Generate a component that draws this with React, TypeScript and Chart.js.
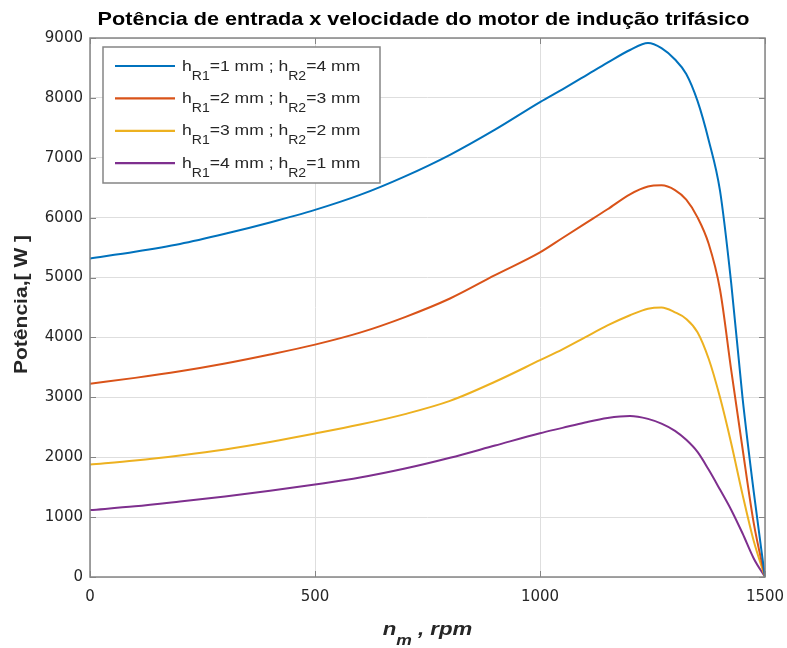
import React, { useEffect, useRef } from 'react';
import { Chart, registerables } from 'chart.js';

Chart.register(...registerables);

// ---- data ----
const rpm = [0, 100, 200, 300, 400, 500, 600, 700, 800, 900, 1000, 1050, 1100, 1150, 1200, 1240, 1270, 1300, 1325, 1350, 1375, 1400, 1425, 1450, 1475, 1500];
const powerR1_1 = [5320, 5430, 5560, 5730, 5920, 6130, 6380, 6690, 7050, 7470, 7930, 8144, 8365, 8588, 8800, 8915, 8830, 8640, 8400, 7950, 7290, 6450, 4900, 3000, 1420, 0];
const powerR1_2 = [3228, 3325, 3435, 3565, 3715, 3880, 4080, 4340, 4650, 5040, 5420, 5660, 5900, 6140, 6390, 6520, 6540, 6460, 6300, 6005, 5560, 4800, 3450, 2150, 900, 0];
const powerR1_3 = [1878, 1945, 2030, 2130, 2255, 2395, 2545, 2720, 2940, 3260, 3620, 3800, 4000, 4200, 4370, 4480, 4500, 4420, 4310, 4088, 3640, 3000, 2230, 1380, 600, 0];
const powerR1_4 = [1117, 1180, 1260, 1345, 1440, 1545, 1660, 1810, 1990, 2195, 2400, 2490, 2580, 2655, 2688, 2640, 2560, 2440, 2290, 2088, 1790, 1460, 1120, 730, 310, 0];
const series = [powerR1_1, powerR1_2, powerR1_3, powerR1_4];
const hR1 = [1, 2, 3, 4];
const hR2 = [4, 3, 2, 1];
const colors = ['#0072BD', '#D95319', '#EDB120', '#7E2F8E'];
const xTicks = [0, 500, 1000, 1500];
const yTicks = [0, 1000, 2000, 3000, 4000, 5000, 6000, 7000, 8000, 9000];

const TITLE = 'Potência de entrada x velocidade do motor de indução trifásico';
const YLABEL = 'Potência,[ W ]';
const XLABEL_MAIN = 'n';
const XLABEL_SUB = 'm';
const XLABEL_REST = ' , rpm';

const SANS = '"Liberation Sans", Arial, Helvetica, sans-serif';
const SX = 1.17;
const AXIS = '#858585';
const TEXT = '#262626';

type Piece = { t: string; sub?: boolean };

function drawPieces(ctx: CanvasRenderingContext2D, pieces: Piece[], x: number, y: number, mainFont: string, subFont: string, subDrop: number, align: 'left' | 'center') {
  let total = 0;
  for (const p of pieces) {
    ctx.font = p.sub ? subFont : mainFont;
    total += ctx.measureText(p.t).width;
  }
  ctx.save();
  ctx.translate(x, y);
  ctx.scale(SX, 1);
  let cx = align === 'center' ? -total / 2 : 0;
  ctx.textAlign = 'left';
  ctx.textBaseline = 'alphabetic';
  for (const p of pieces) {
    ctx.font = p.sub ? subFont : mainFont;
    ctx.fillText(p.t, cx, p.sub ? subDrop : 0);
    cx += ctx.measureText(p.t).width;
  }
  ctx.restore();
}

const decor = {
  id: 'decor',
  afterDatasetsDraw(chart: any) {
    const { ctx, chartArea: a, scales } = chart;
    ctx.save();
    // axes box
    ctx.strokeStyle = AXIS;
    ctx.lineWidth = 1.5;
    ctx.strokeRect(a.left, a.top, a.right - a.left, a.bottom - a.top);
    // inward tick marks on all four sides
    ctx.lineWidth = 1;
    ctx.beginPath();
    for (const v of xTicks) {
      const px = Math.round(scales.x.getPixelForValue(v)) + 0.5;
      ctx.moveTo(px, a.bottom); ctx.lineTo(px, a.bottom - 6);
      ctx.moveTo(px, a.top); ctx.lineTo(px, a.top + 6);
    }
    for (const v of yTicks) {
      const py = Math.round(scales.y.getPixelForValue(v)) + 0.5;
      ctx.moveTo(a.left, py); ctx.lineTo(a.left + 6, py);
      ctx.moveTo(a.right, py); ctx.lineTo(a.right - 6, py);
    }
    ctx.stroke();

    // legend
    const lx = a.left + 13;
    const ly = a.top + 9;
    const lw = 277;
    const lh = 136;
    ctx.fillStyle = '#ffffff';
    ctx.fillRect(lx, ly, lw, lh);
    ctx.strokeStyle = AXIS;
    ctx.lineWidth = 1.5;
    ctx.strokeRect(lx, ly, lw, lh);
    chart.data.datasets.forEach((ds: any, i: number) => {
      const ry = ly + 19 + i * 32.4;
      ctx.strokeStyle = ds.borderColor;
      ctx.lineWidth = 2.2;
      ctx.beginPath();
      ctx.moveTo(lx + 12, ry);
      ctx.lineTo(lx + 72, ry);
      ctx.stroke();
      ctx.fillStyle = TEXT;
      drawPieces(ctx, [
        { t: 'h' }, { t: 'R1', sub: true }, { t: `=${hR1[i]} mm ; h` }, { t: 'R2', sub: true }, { t: `=${hR2[i]} mm` },
      ], lx + 79, ry + 4.5, `15px ${SANS}`, `12px ${SANS}`, 9, 'left');
    });

    // title
    const cx = (a.left + a.right) / 2;
    ctx.fillStyle = '#000000';
    drawPieces(ctx, [{ t: TITLE }], cx - 4, 25, `bold 18.5px ${SANS}`, `bold 18.5px ${SANS}`, 0, 'center');

    // x label
    ctx.fillStyle = TEXT;
    drawPieces(ctx, [{ t: XLABEL_MAIN }, { t: XLABEL_SUB, sub: true }, { t: XLABEL_REST }], cx, 635,
      `italic bold 19px ${SANS}`, `italic bold 15px ${SANS}`, 10, 'center');

    // y label
    ctx.save();
    ctx.translate(27, (a.top + a.bottom) / 2 - 3);
    ctx.rotate(-Math.PI / 2);
    drawPieces(ctx, [{ t: YLABEL }], 0, 0, `bold 18px ${SANS}`, `bold 18px ${SANS}`, 0, 'center');
    ctx.restore();

    ctx.restore();
  },
};

export default function App() {
  const ref = useRef<HTMLCanvasElement | null>(null);
  useEffect(() => {
    document.body.style.margin = '0';
    const canvas = ref.current;
    if (!canvas) return;
    const chart = new Chart(canvas, {
      type: 'line',
      data: {
        datasets: series.map((s, i) => ({
          label: `hR1=${hR1[i]} mm ; hR2=${hR2[i]} mm`,
          data: rpm.map((x, j) => ({ x, y: s[j] })),
          borderColor: colors[i],
          backgroundColor: colors[i],
          borderWidth: 2,
          pointRadius: 0,
          cubicInterpolationMode: 'monotone' as const,
          fill: false,
        })),
      },
      options: {
        responsive: false,
        animation: false,
        devicePixelRatio: 1,
        layout: { padding: { left: 0, top: 38, right: 22, bottom: 0 } },
        plugins: { legend: { display: false }, tooltip: { enabled: false }, title: { display: false } },
        scales: {
          x: {
            type: 'linear',
            min: 0,
            max: 1500,
            afterFit: (s: any) => { s.height = 71; s.paddingLeft = 0; s.paddingRight = 0; },
            afterBuildTicks: (s: any) => { s.ticks = xTicks.map((v) => ({ value: v })); },
            ticks: { color: TEXT, font: { family: '"DejaVu Sans", sans-serif', size: 15 }, padding: 11, maxRotation: 0, callback: (v: any) => String(v) },
            grid: { color: '#dedede', lineWidth: 1, drawTicks: false },
            border: { display: false },
          },
          y: {
            type: 'linear',
            min: 0,
            max: 9000,
            afterFit: (s: any) => { s.width = 90; s.paddingTop = 0; s.paddingBottom = 0; },
            afterBuildTicks: (s: any) => { s.ticks = yTicks.map((v) => ({ value: v })); },
            ticks: { color: TEXT, font: { family: '"DejaVu Sans", sans-serif', size: 15 }, padding: 7, callback: (v: any) => String(v) },
            grid: { color: '#dedede', lineWidth: 1, drawTicks: false },
            border: { display: false },
          },
        },
      },
      plugins: [decor],
    });
    return () => chart.destroy();
  }, []);
  return (
    <div style={{ width: 787, height: 648, background: '#ffffff' }}>
      <canvas ref={ref} width={787} height={648} />
    </div>
  );
}
